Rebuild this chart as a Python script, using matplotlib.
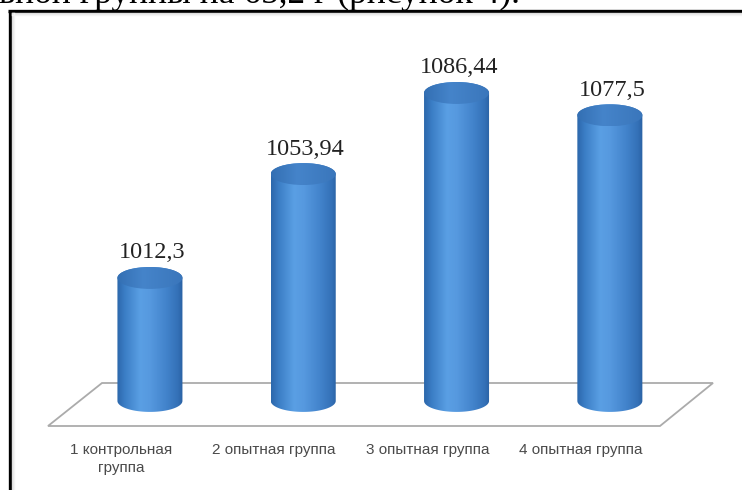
import numpy as np
import matplotlib
matplotlib.use("Agg")
import matplotlib.pyplot as plt
from matplotlib.path import Path
from matplotlib.patches import PathPatch, Ellipse, Polygon
from matplotlib.colors import LinearSegmentedColormap
import matplotlib.transforms as mtransforms

categories = ["1 контрольная\nгруппа", "2 опытная группа", "3 опытная группа", "4 опытная группа"]
values = [1012.3, 1053.94, 1086.44, 1077.5]
value_labels = ["1012,3", "1053,94", "1086,44", "1077,5"]
caption_fragment = "ьной группы на 65,2 г (рисунок 4)."

W, H = 742, 490
fig = plt.figure(figsize=(W / 100, H / 100), dpi=100)
fig.patch.set_facecolor("white")
ax = fig.add_axes([0, 0, 1, 1])
ax.set_axis_off()

XLIM = (-0.978, 3.862)
YLIM = (927.3, 1123.7)
BASE = 963.0
half_w = 0.212      # cylinder half-width in x units
half_e = 4.4        # ellipse half-height in value units


def px(x, y):
    return (x / W, 1 - y / H)


# frame of the pasted picture
frame_kw = dict(transform=fig.transFigure, color="black", lw=2.4, solid_capstyle="butt")
fig.add_artist(plt.Line2D([px(9.5, 0)[0]] * 2, [px(0, 11)[1], px(0, 495)[1]], **frame_kw))
fig.add_artist(plt.Line2D([px(8.3, 0)[0], px(745, 0)[0]], [px(0, 11)[1]] * 2, **frame_kw))
# faint inner shadow
for i, c in enumerate(["#dcdcdc", "#e9e9e9", "#f3f3f3"]):
    fig.add_artist(plt.Line2D([px(12 + i, 0)[0]] * 2, [px(0, 13)[1], px(0, 490)[1]],
                              transform=fig.transFigure, color=c, lw=1))
    fig.add_artist(plt.Line2D([px(12, 0)[0], px(742, 0)[0]], [px(0, 13 + i)[1]] * 2,
                              transform=fig.transFigure, color=c, lw=1))

# cropped caption text at the very top (cut off in the reference as well)
fig.text(px(-1, 0)[0], px(0, 3)[1], caption_fragment, transform=fig.transFigure,
         fontfamily="Liberation Serif", fontsize=25.5, color="black", va="baseline", ha="left")

# floor of the 3D chart
floor_pts = [px(102, 383), px(713, 383), px(660, 426), px(48, 426)]
floor = Polygon(floor_pts, closed=True, transform=fig.transFigure, facecolor="white",
                edgecolor="#ababab", lw=1.3, zorder=1)
ax.add_artist(floor)

body_cmap = LinearSegmentedColormap.from_list(
    "body", [(0.0, "#2c67ab"), (0.12, "#3b7ec6"), (0.35, "#5a9fe4"), (0.5, "#5699df"),
             (0.75, "#4283cb"), (0.92, "#3471b8"), (1.0, "#2a61a3")])
top_cmap = LinearSegmentedColormap.from_list(
    "top", [(0.0, "#336fb3"), (0.4, "#4584ca"), (1.0, "#3a76bb")])

t = np.linspace(0, np.pi, 60)
grad = np.linspace(0, 1, 256).reshape(1, -1)

for i, v in enumerate(values):
    x0 = i
    left = [(x0 - half_w, v), (x0 - half_w, BASE)]
    bottom = [(x0 - half_w * np.cos(a), BASE - half_e * np.sin(a)) for a in t]
    right = [(x0 + half_w, BASE), (x0 + half_w, v)]
    top = [(x0 + half_w * np.cos(a), v + half_e * np.sin(a)) for a in t]
    verts = left + bottom + right + top + [left[0]]
    codes = [Path.MOVETO] + [Path.LINETO] * (len(verts) - 2) + [Path.CLOSEPOLY]
    clip = PathPatch(Path(verts, codes), facecolor="none", edgecolor="none", transform=ax.transData)
    ax.add_patch(clip)
    im = ax.imshow(grad, cmap=body_cmap, aspect="auto", interpolation="bilinear",
                   extent=[x0 - half_w, x0 + half_w, BASE - half_e, v + half_e], zorder=3)
    im.set_clip_path(clip)
    cap = Ellipse((x0, v), 2 * half_w, 2 * half_e, transform=ax.transData,
                  facecolor="none", edgecolor="none")
    ax.add_patch(cap)
    im2 = ax.imshow(grad, cmap=top_cmap, aspect="auto", interpolation="bilinear",
                    extent=[x0 - half_w, x0 + half_w, v - half_e, v + half_e], zorder=4)
    im2.set_clip_path(cap)
    ax.annotate(value_labels[i], xy=(x0, v), xytext=(1.5, 18), textcoords="offset points",
                ha="center", va="center", fontfamily="Liberation Serif", fontsize=17.5,
                color="#222222", zorder=6)

# category labels (shifted left by perspective)
lab_tr = mtransforms.blended_transform_factory(ax.transData, fig.transFigure)
for i, c in enumerate(categories):
    ax.text(i - 0.19, px(0, 443)[1], c, transform=lab_tr, ha="center", va="top",
            fontfamily="Liberation Sans", fontsize=11, color="#4a4a4a",
            linespacing=1.4, zorder=6)

ax.set_xlim(*XLIM)
ax.set_ylim(*YLIM)

fig.savefig("out.png", dpi=100, facecolor="white")
